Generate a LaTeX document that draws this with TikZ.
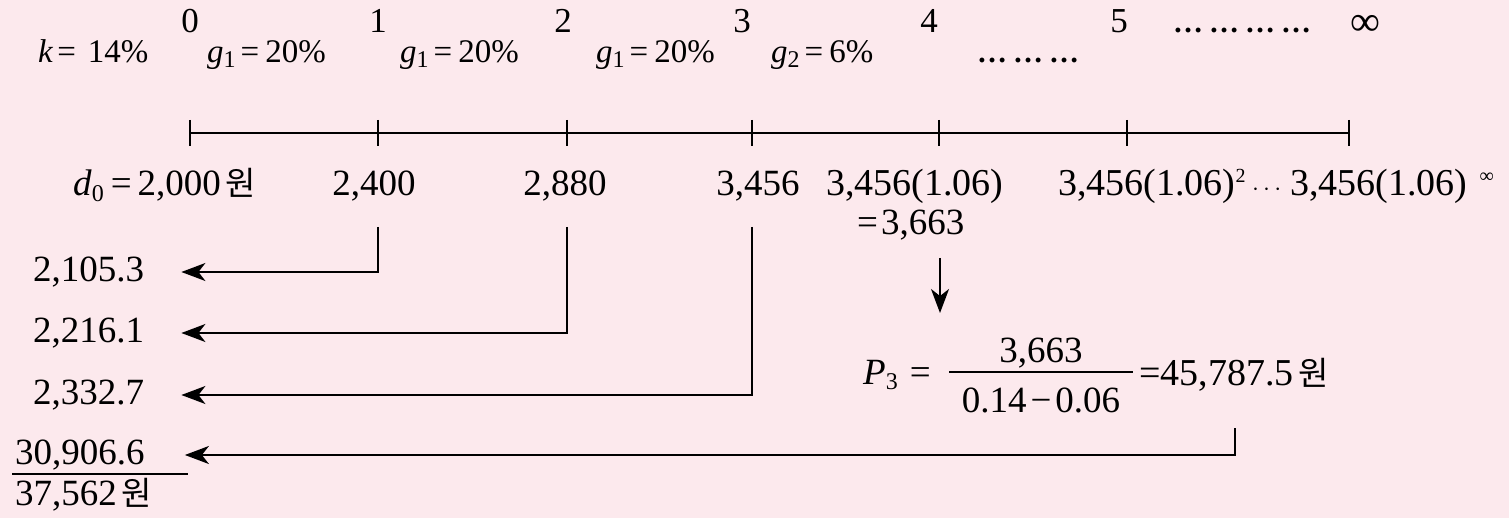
\documentclass[tikz,border=0pt]{standalone}
\usepackage{fontspec}
\setmainfont{Liberation Serif}
\newfontfamily\krfont{Noto Sans CJK KR}
\usetikzlibrary{arrows.meta}
\definecolor{bgpink}{RGB}{252,233,237}
\newcommand{\won}{\hspace{5pt}{\krfont\fontsize{33}{34}\selectfont 원}}
\newcommand{\lo}[1]{\raisebox{-0.3ex}{\fontsize{24}{24}\selectfont #1}}
\newcommand{\hi}[1]{\raisebox{0.75ex}{\fontsize{20}{20}\selectfont #1}}
\newcommand{\dotgrp}{{\fontsize{30}{30}\selectfont\bfseries …}}
\begin{document}
\begin{tikzpicture}[x=1pt,y=-1pt,
  every node/.style={inner sep=0pt, font=\fontsize{37}{40}\selectfont},
  toprow/.style={font=\fontsize{35}{36}\selectfont},
  raterow/.style={font=\fontsize{33}{34}\selectfont},
  wide/.style={font=\fontsize{38}{40}\selectfont},
  ln/.style={line width=1.8pt},
  arr/.style={ln,-{Stealth[length=24pt,width=18pt,inset=7pt]}}]
\fill[bgpink] (0,0) rectangle (1509,518);
\useasboundingbox (0,0) rectangle (1509,518);

% top row: periods
\node[toprow,anchor=base] (t0) at (190,33) {0};
\node[toprow,anchor=base] (t1) at (378,33) {1};
\node[toprow,anchor=base] (t2) at (563,33) {2};
\node[toprow,anchor=base] (t3) at (742,33) {3};
\node[toprow,anchor=base] (t4) at (929,33) {4};
\node[toprow,anchor=base] (t5) at (1119,33) {5};
\node[toprow,anchor=base west] (tdots) at (1173,33) {\dotgrp\hspace{6pt}\dotgrp\hspace{6pt}\dotgrp\hspace{6pt}\dotgrp};
\node[anchor=base] (tinf) at (1365,36) {\fontsize{42}{42}\selectfont ∞};

% second row: rates
\node[raterow,anchor=base west] (k) at (38,63) {\textit{k}\hspace{4pt}=\hspace{12pt}14\%};
\node[raterow,anchor=base west] (ga) at (207,63) {\textit{g}\lo{1}\hspace{5pt}=\hspace{6pt}20\%};
\node[raterow,anchor=base west] (gb) at (400,63) {\textit{g}\lo{1}\hspace{5pt}=\hspace{6pt}20\%};
\node[raterow,anchor=base west] (gc) at (596,63) {\textit{g}\lo{1}\hspace{5pt}=\hspace{6pt}20\%};
\node[raterow,anchor=base west] (gd) at (771,63) {\textit{g}\lo{2}\hspace{5pt}=\hspace{6pt}6\%};
\node[raterow,anchor=base west] (rdots) at (977,63) {\dotgrp\hspace{6pt}\dotgrp\hspace{6pt}\dotgrp};

% time axis
\coordinate (a0) at (190,133);
\coordinate (a1) at (378,133);
\coordinate (a2) at (567,133);
\coordinate (a3) at (752,133);
\coordinate (a4) at (939,133);
\coordinate (a5) at (1127,133);
\coordinate (a6) at (1349,133);
\draw[ln] (a0) -- (a6);
\foreach \c in {a0,a1,a2,a3,a4,a5,a6}
  \draw[ln] ([yshift=13pt]\c) -- ([yshift=-13pt]\c);

% dividends
\node[anchor=base west] (v0) at (73,196) {\textit{d}\lo{0}\hspace{7pt}=\hspace{6pt}2,000\won};
\node[anchor=base] (v1) at (374,196) {2,400};
\node[anchor=base] (v2) at (565,196) {2,880};
\node[anchor=base] (v3) at (758,196) {3,456};
\node[wide,anchor=base west] (v4) at (826,196) {3,456(1.06)};
\node[anchor=base west] (v4b) at (857,235) {=\hspace{3pt}3,663};
\node[wide,anchor=base west] (v5) at (1058,196) {3,456(1.06)\hi{2}};
\node[wide,anchor=base west] (v6) at (1252,196) {$\cdots$\hspace{9pt}3,456(1.06)\hspace{12pt}\hi{∞}};

% present values
\node[anchor=west] (p1) at (33,272) {2,105.3};
\node[anchor=west] (p2) at (33,333) {2,216.1};
\node[anchor=west] (p3) at (33,395) {2,332.7};
\node[anchor=west] (p4) at (15,455) {30,906.6};
\node[anchor=west] (tot) at (15,495) {37,562\won};
\draw[line width=1.6pt] (12,474) -- (188,474);

\coordinate (c1) at (378,227);
\coordinate (c2) at (567,227);
\coordinate (c3) at (752,227);
\coordinate (c4) at (1235,428);
\draw[arr,shorten >=37pt] (c1) |- (p1.east);
\draw[arr,shorten >=37pt] (c2) |- (p2.east);
\draw[arr,shorten >=37pt] (c3) |- (p3.east);
\draw[arr,shorten >=40pt] (c4) |- (p4.east);

% terminal value
\coordinate (dA) at (940,258);
\coordinate (dB) at (940,313);
\draw[arr] (dA) -- (dB);
\node[anchor=base west] (pl) at (863,384) {\textit{P}\lo{3}\hspace{12pt}=};
\node[anchor=base] (num) at (1041,362) {3,663};
\node[anchor=base] (den) at (1041,412) {0.14\hspace{4pt}−\hspace{4pt}0.06};
\draw[line width=1.6pt] (949,372) -- (1133,372);
\node[wide,anchor=base west] (res) at (1139,385) {=45,787.5\won};
\end{tikzpicture}
\end{document}
